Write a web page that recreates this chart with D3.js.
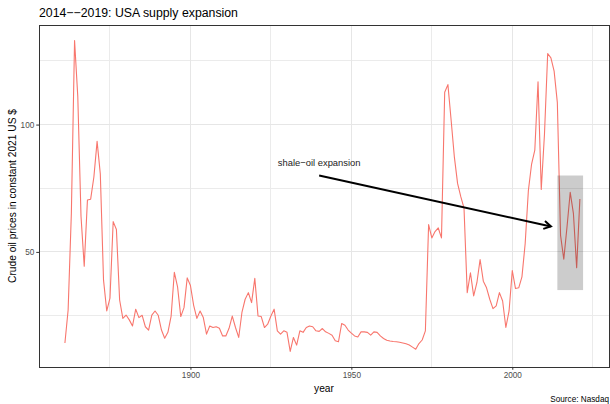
<!DOCTYPE html>
<html>
<head>
<meta charset="utf-8">
<script src="https://cdn.jsdelivr.net/npm/d3@7"></script>
<style>
  body { margin: 0; background: #fff; }
  svg { display: block; font-family: "Liberation Sans", Arial, Helvetica, sans-serif; }
</style>
</head>
<body>
<svg id="chart" width="610" height="404"></svg>
<script>
// ---- data ----
const years = [
  1861,1862,1863,1864,1865,1866,1867,1868,1869,1870,
  1871,1872,1873,1874,1875,1876,1877,1878,1879,1880,
  1881,1882,1883,1884,1885,1886,1887,1888,1889,1890,
  1891,1892,1893,1894,1895,1896,1897,1898,1899,1900,
  1901,1902,1903,1904,1905,1906,1907,1908,1909,1910,
  1911,1912,1913,1914,1915,1916,1917,1918,1919,1920,
  1921,1922,1923,1924,1925,1926,1927,1928,1929,1930,
  1931,1932,1933,1934,1935,1936,1937,1938,1939,1940,
  1941,1942,1943,1944,1945,1946,1947,1948,1949,1950,
  1951,1952,1953,1954,1955,1956,1957,1958,1959,1960,
  1961,1962,1963,1964,1965,1966,1967,1968,1969,1970,
  1971,1972,1973,1974,1975,1976,1977,1978,1979,1980,
  1981,1982,1983,1984,1985,1986,1987,1988,1989,1990,
  1991,1992,1993,1994,1995,1996,1997,1998,1999,2000,
  2001,2002,2003,2004,2005,2006,2007,2008,2009,2010,
  2011,2012,2013,2014,2015,2016,2017,2018,2019,2020,
  2021
];
const prices = [
  14.2,27.2,65.0,133.0,111.0,64.0,44.4,70.4,70.7,79.4,
  93.4,80.6,38.9,26.8,31.8,61.9,58.8,31.1,23.9,25.2,
  23.3,20.9,27.5,24.2,25.1,20.6,19.3,25.2,26.8,25.1,
  19.3,16.1,18.4,24.8,42.0,36.3,24.6,28.1,39.8,36.8,
  29.0,23.9,26.8,24.2,17.7,20.9,20.3,20.6,20.0,17.0,
  17.0,20.0,24.8,20.3,16.4,26.2,31.4,34.0,30.1,39.6,
  24.8,24.6,20.3,21.6,24.8,27.5,19.0,17.7,19.0,18.4,
  10.9,16.4,13.4,19.0,18.4,20.3,20.9,20.6,19.0,18.8,
  19.9,18.6,18.0,17.3,15.1,14.7,21.9,21.2,19.3,18.1,
  17.0,16.6,18.6,18.6,18.4,17.3,18.6,18.4,17.0,16.0,
  15.3,15.0,14.8,14.7,14.5,14.2,13.9,13.4,12.6,11.8,
  14.0,15.4,19.0,60.7,55.5,58.0,59.4,55.5,112.7,115.7,
  101.7,87.3,76.9,71.7,67.2,34.0,41.8,32.7,37.9,47.0,
  38.5,35.9,31.4,27.7,28.8,34.0,30.7,20.3,26.8,42.7,
  35.6,35.9,40.2,53.2,74.1,84.5,90.0,116.8,74.5,96.2,
  127.9,126.2,121.0,108.6,56.5,47.1,59.8,73.4,65.0,43.8,
  70.8
];
const yBreaks = [50, 100];
const yMinorBreaks = [25, 75, 125];
const xBreaks = [1900, 1950, 2000];
const xMinorBreaks = [1875, 1925, 1975, 2025];

// annotation values (data units)
const shadeYears = [2014, 2022];
const shadePrices = [35, 80];
const arrowYears = [1940, 2012];
const arrowPrices = [80, 60];
const labelYear = 1940, labelPrice = 85;
const labelText = "shale\u2212oil expansion";

const titleText = "2014\u2212\u22122019: USA supply expansion";
const yTitle = "Crude oil prices in constant 2021 US $";
const xTitle = "year";
const caption = "Source: Nasdaq";

// ---- layout ----
const P = { left: 39, right: 609, top: 25, bottom: 367 };
const svg = d3.select("#chart");

function expand(ext) { const r = ext[1] - ext[0]; return [ext[0] - 0.05 * r, ext[1] + 0.05 * r]; }

const xExt = d3.extent(years.concat(shadeYears));
const yExt = d3.extent(prices.concat(shadePrices));
const x = d3.scaleLinear().domain(expand(xExt)).range([P.left, P.right]);
const y = d3.scaleLinear().domain(expand(yExt)).range([P.bottom, P.top]);

// panel background
svg.append("rect").attr("x", P.left).attr("y", P.top)
  .attr("width", P.right - P.left).attr("height", P.bottom - P.top).attr("fill", "#fff");

const grid = svg.append("g").attr("shape-rendering", "crispEdges");
grid.selectAll(".ym").data(yMinorBreaks).join("line")
  .attr("x1", P.left).attr("x2", P.right).attr("y1", d => y(d)).attr("y2", d => y(d))
  .attr("stroke", "#ebebeb").attr("stroke-width", 1);
grid.selectAll(".xm").data(xMinorBreaks).join("line")
  .attr("y1", P.top).attr("y2", P.bottom).attr("x1", d => x(d)).attr("x2", d => x(d))
  .attr("stroke", "#ebebeb").attr("stroke-width", 1);
grid.selectAll(".yM").data(yBreaks).join("line")
  .attr("x1", P.left).attr("x2", P.right).attr("y1", d => y(d)).attr("y2", d => y(d))
  .attr("stroke", "#e6e6e6").attr("stroke-width", 1.2);
grid.selectAll(".xM").data(xBreaks).join("line")
  .attr("y1", P.top).attr("y2", P.bottom).attr("x1", d => x(d)).attr("x2", d => x(d))
  .attr("stroke", "#e6e6e6").attr("stroke-width", 1.2);

// price line
const line = d3.line().x((d, i) => x(years[i])).y(d => y(d));
svg.append("path").datum(prices).attr("d", line)
  .attr("fill", "none").attr("stroke", "#F8766D").attr("stroke-width", 1.1)
  .attr("stroke-linejoin", "round");

// shaded rect
svg.append("rect")
  .attr("x", x(shadeYears[0])).attr("width", x(shadeYears[1]) - x(shadeYears[0]))
  .attr("y", y(shadePrices[1])).attr("height", y(shadePrices[0]) - y(shadePrices[1]))
  .attr("fill", "#000").attr("fill-opacity", 0.2);

// arrow
const ax1 = x(arrowYears[0]), ay1 = y(arrowPrices[0]);
const ax2 = x(arrowYears[1]), ay2 = y(arrowPrices[1]);
svg.append("line").attr("x1", ax1).attr("y1", ay1).attr("x2", ax2).attr("y2", ay2)
  .attr("stroke", "#000").attr("stroke-width", 2);
const ang = Math.atan2(ay2 - ay1, ax2 - ax1);
const hl = 8, ha = Math.PI / 6;
const head = [
  [ax2 - hl * Math.cos(ang - ha), ay2 - hl * Math.sin(ang - ha)],
  [ax2, ay2],
  [ax2 - hl * Math.cos(ang + ha), ay2 - hl * Math.sin(ang + ha)]
];
svg.append("path").attr("d", d3.line()(head)).attr("fill", "none")
  .attr("stroke", "#000").attr("stroke-width", 2).attr("stroke-linejoin", "miter");

// label
svg.append("text").attr("x", x(labelYear)).attr("y", y(labelPrice)).attr("dy", "0.35em")
  .attr("text-anchor", "middle").attr("font-size", "9.4px").attr("fill", "#222")
  .text(labelText);

// panel border
svg.append("rect").attr("x", P.left).attr("y", P.top)
  .attr("width", P.right - P.left).attr("height", P.bottom - P.top)
  .attr("fill", "none").attr("stroke", "#333").attr("stroke-width", 1)
  .attr("shape-rendering", "crispEdges");

// axes
const yAxis = d3.axisLeft(y).tickValues(yBreaks).tickSize(2.75).tickPadding(2);
const gy = svg.append("g").attr("transform", `translate(${P.left},0)`).call(yAxis);
gy.select(".domain").remove();
gy.selectAll(".tick line").attr("stroke", "#333");
gy.selectAll(".tick text").attr("fill", "#4d4d4d").attr("font-size", "8.2px")
  .style("font-family", "'Liberation Sans', Arial, sans-serif");

const xAxis = d3.axisBottom(x).tickValues(xBreaks).tickSize(2.75).tickPadding(2).tickFormat(d3.format("d"));
const gx = svg.append("g").attr("transform", `translate(0,${P.bottom})`).call(xAxis);
gx.select(".domain").remove();
gx.selectAll(".tick line").attr("stroke", "#333");
gx.selectAll(".tick text").attr("fill", "#4d4d4d").attr("font-size", "8.2px")
  .style("font-family", "'Liberation Sans', Arial, sans-serif");

// titles
svg.append("text").attr("x", P.left).attr("y", 17).attr("font-size", "12.3px").attr("fill", "#000")
  .text(titleText);
svg.append("text").attr("x", (P.left + P.right) / 2).attr("y", 392).attr("text-anchor", "middle")
  .attr("font-size", "10.2px").attr("fill", "#000").text(xTitle);
svg.append("text").attr("transform", `translate(16,${(P.top + P.bottom) / 2}) rotate(-90)`)
  .attr("text-anchor", "middle").attr("font-size", "10.2px").attr("fill", "#000").text(yTitle);
svg.append("text").attr("x", P.right).attr("y", 402).attr("text-anchor", "end")
  .attr("font-size", "8.2px").attr("fill", "#000").text(caption);
</script>
</body>
</html>
